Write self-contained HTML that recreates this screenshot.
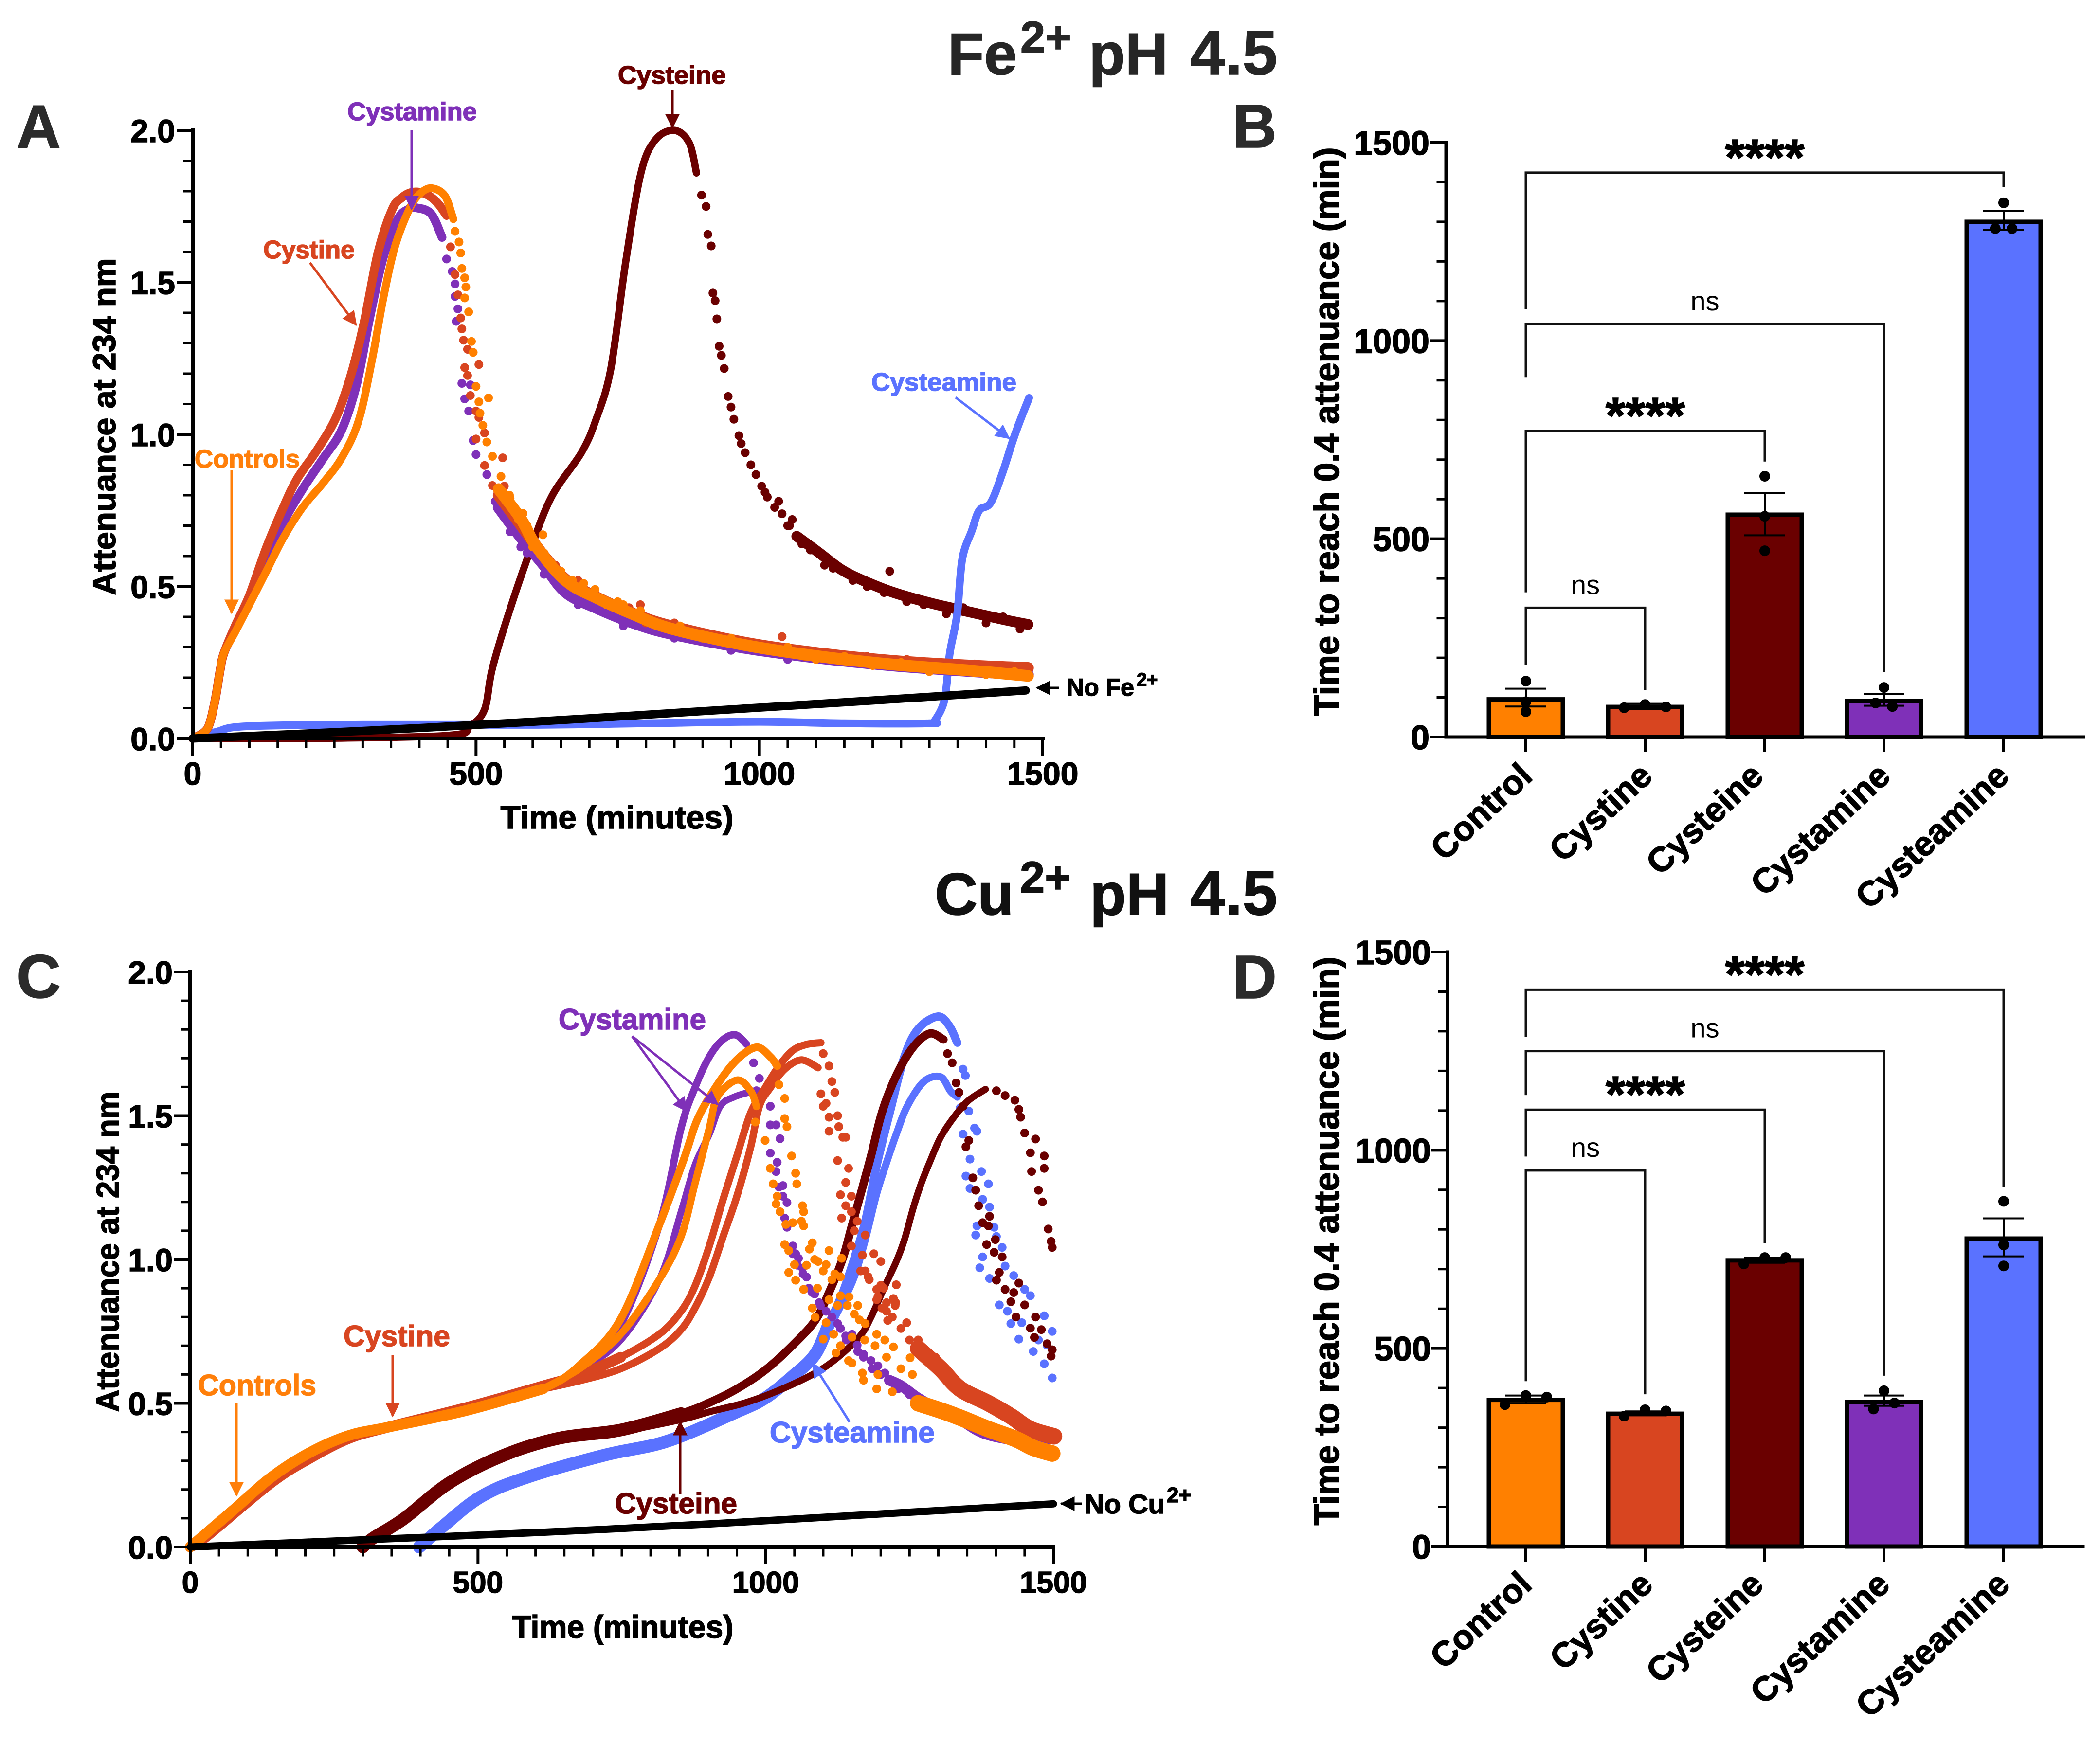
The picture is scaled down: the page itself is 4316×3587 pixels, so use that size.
<!DOCTYPE html>
<html lang="en">
<head>
<meta charset="utf-8">
<title>Attenuance time courses and time to 0.4 attenuance, Fe2+ and Cu2+ at pH 4.5</title>
<style>
html,body{margin:0;padding:0;background:#fff;}
svg{display:block;font-family:"Liberation Sans",sans-serif;}
text{font-family:"Liberation Sans",sans-serif;}
.b{font-weight:700;}
</style>
</head>
<body>
<svg id="figure" xmlns="http://www.w3.org/2000/svg" width="4316" height="3587" viewBox="0 0 4316 3587">
<rect x="0" y="0" width="4316" height="3587" fill="#fff"/>

<defs>
<marker id="ah-orange" markerWidth="7" markerHeight="7" refX="5.5" refY="3" orient="auto" markerUnits="strokeWidth"><path d="M0,0L6,3L0,6z" fill="#ff7f0a"/></marker>
<marker id="ah-red" markerWidth="7" markerHeight="7" refX="5.5" refY="3" orient="auto" markerUnits="strokeWidth"><path d="M0,0L6,3L0,6z" fill="#d84520"/></marker>
<marker id="ah-dark" markerWidth="7" markerHeight="7" refX="5.5" refY="3" orient="auto" markerUnits="strokeWidth"><path d="M0,0L6,3L0,6z" fill="#6a0000"/></marker>
<marker id="ah-purple" markerWidth="7" markerHeight="7" refX="5.5" refY="3" orient="auto" markerUnits="strokeWidth"><path d="M0,0L6,3L0,6z" fill="#7f30b8"/></marker>
<marker id="ah-blue" markerWidth="7" markerHeight="7" refX="5.5" refY="3" orient="auto" markerUnits="strokeWidth"><path d="M0,0L6,3L0,6z" fill="#5a72ff"/></marker>
<marker id="ah-black" markerWidth="7" markerHeight="7" refX="5.5" refY="3" orient="auto" markerUnits="strokeWidth"><path d="M0,0L6,3L0,6z" fill="#000"/></marker>
</defs>

<text class="b" font-size="122" fill="#262626" y="153"><tspan x="1948">Fe</tspan><tspan x="2097" y="108" font-size="92">2+</tspan><tspan x="2238" y="153">pH</tspan><tspan x="2446" y="153" font-size="129">4.5</tspan></text>
<text class="b" font-size="122" fill="#111" y="1880"><tspan x="1921">Cu</tspan><tspan x="2096" y="1835" font-size="92">2+</tspan><tspan x="2240" y="1880">pH</tspan><tspan x="2446" y="1880" font-size="129">4.5</tspan></text>

<text class="b" font-size="126" fill="#2b2b2b" x="34" y="304">A</text>
<text class="b" font-size="126" fill="#2b2b2b" x="2533" y="303">B</text>
<text class="b" font-size="126" fill="#2b2b2b" x="34" y="2051">C</text>
<text class="b" font-size="126" fill="#2b2b2b" x="2533" y="2052">D</text>

<g id="panel-a"></g>
<g id="panel-b"></g>
<g id="panel-c"></g>
<g id="panel-d"></g>

<g class="b">
<text class="b" x="714" y="247" font-size="52" fill="#7f30b8" textLength="266" lengthAdjust="spacingAndGlyphs">Cystamine</text>
<line x1="846" y1="268" x2="846" y2="430" stroke="#7f30b8" stroke-width="5" marker-end="url(#ah-purple)"/>
<text class="b" x="541" y="531" font-size="52" fill="#d84520" textLength="188" lengthAdjust="spacingAndGlyphs">Cystine</text>
<line x1="637" y1="540" x2="732" y2="668" stroke="#d84520" stroke-width="5" marker-end="url(#ah-red)"/>
<text class="b" x="400" y="961" font-size="52" fill="#ff7f0a" textLength="216" lengthAdjust="spacingAndGlyphs">Controls</text>
<line x1="476" y1="966" x2="476" y2="1260" stroke="#ff7f0a" stroke-width="5" marker-end="url(#ah-orange)"/>
<text class="b" x="1270" y="172" font-size="52" fill="#6a0000" textLength="222" lengthAdjust="spacingAndGlyphs">Cysteine</text>
<line x1="1382" y1="184" x2="1382" y2="262" stroke="#6a0000" stroke-width="5" marker-end="url(#ah-dark)"/>
<text class="b" x="1791" y="803" font-size="52" fill="#5a72ff" textLength="298" lengthAdjust="spacingAndGlyphs">Cysteamine</text>
<line x1="1964" y1="817" x2="2074" y2="901" stroke="#5a72ff" stroke-width="5" marker-end="url(#ah-blue)"/>
<line x1="2177" y1="1414" x2="2131" y2="1414" stroke="#000" stroke-width="5" marker-end="url(#ah-black)"/>
<text class="b" font-size="50" fill="#000" y="1430"><tspan x="2192">No Fe</tspan><tspan x="2336" y="1410" font-size="38">2+</tspan></text>
</g>

<g class="b">
<text class="b" x="1148" y="2116" font-size="60" fill="#7f30b8" textLength="303" lengthAdjust="spacingAndGlyphs">Cystamine</text>
<line x1="1299" y1="2130" x2="1411" y2="2284" stroke="#7f30b8" stroke-width="5" marker-end="url(#ah-purple)"/>
<line x1="1299" y1="2130" x2="1475" y2="2270" stroke="#7f30b8" stroke-width="5" marker-end="url(#ah-purple)"/>
<text class="b" x="706" y="2767" font-size="60" fill="#d84520" textLength="219" lengthAdjust="spacingAndGlyphs">Cystine</text>
<line x1="807" y1="2786" x2="807" y2="2911" stroke="#d84520" stroke-width="5" marker-end="url(#ah-red)"/>
<text class="b" x="407" y="2868" font-size="60" fill="#ff7f0a" textLength="243" lengthAdjust="spacingAndGlyphs">Controls</text>
<line x1="486" y1="2883" x2="486" y2="3074" stroke="#ff7f0a" stroke-width="5" marker-end="url(#ah-orange)"/>
<text class="b" x="1264" y="3111" font-size="60" fill="#6a0000" textLength="251" lengthAdjust="spacingAndGlyphs">Cysteine</text>
<line x1="1398" y1="3071" x2="1398" y2="2923" stroke="#6a0000" stroke-width="5" marker-end="url(#ah-dark)"/>
<line x1="1746" y1="2923" x2="1671" y2="2803" stroke="#5a72ff" stroke-width="5" marker-end="url(#ah-blue)"/>
<text class="b" x="1582" y="2965" font-size="60" fill="#5a72ff" textLength="339" lengthAdjust="spacingAndGlyphs">Cysteamine</text>
<line x1="2224" y1="3091" x2="2181" y2="3091" stroke="#000" stroke-width="5" marker-end="url(#ah-black)"/>
<text class="b" font-size="56" fill="#000" y="3111"><tspan x="2229">No Cu</tspan><tspan x="2398" y="3088" font-size="44">2+</tspan></text>
</g>
</svg>

<script>
/* Axis tick labels */
const timeTicks = [0, 500, 1000, 1500];
const attenuanceTicks = [0, 0.5, 1, 1.5, 2];
const durationTicks = [0, 500, 1000, 1500];
const categories = ['Control', 'Cystine', 'Cysteine', 'Cystamine', 'Cysteamine'];

/* Panel A: Fe2+ traces (minutes, attenuance) */
const aCystineT = [0,20,30,40,48,55,75,100,130,160,184,220,253,280,303,327,352,370,386,405,421,435,448];
const aCystineV = [0,.02,.05,.13,.22,.28,.37,.47,.627,.76,.853,.95,1.056,1.2,1.373,1.597,1.74,1.78,1.796,1.795,1.78,1.755,1.72];
const aCystineTailT = [540,580,620,660,712,778,843,975,1106,1237,1369,1474];
const aCystineTailV = [.80,.70,.60,.52,.465,.41,.37,.315,.28,.255,.24,.232];
const aCystineDotT = [455,463,468,473,475,478,485,480,485,505,490,500,505,515,500,515,529,547,790,1040,1190];
const aCystineDotV = [1.617,1.526,1.459,1.383,1.347,1.31,1.28,1.22,1.194,1.23,1.128,1.077,1.056,1.005,.985,.898,.832,.923,.44,.335,.27];
const aCystineExtraT = [550,570,600,640,680,720,770,800,850,900,960,1020,1080,1140,1200,1260,1320,1380,1440];
const aCystineExtraV = [.83,.73,.66,.57,.52,.46,.43,.38,.38,.33,.32,.30,.27,.275,.25,.26,.235,.245,.225];

const aCystamineT = [0,20,30,40,48,55,75,100,130,160,194,230,263,290,312,337,362,380,396,421,440];
const aCystamineV = [0,.02,.05,.13,.22,.28,.36,.46,.58,.71,.82,.92,1.015,1.17,1.38,1.587,1.708,1.74,1.745,1.725,1.648];
const aCystamineTailT = [540,580,620,659,712,778,843,975,1106,1237,1369,1474];
const aCystamineTailV = [.76,.66,.57,.48,.43,.38,.345,.298,.265,.24,.222,.21];
const aCystamineDotT = [448,458,463,463,468,465,475,490,480,487,495,500,519,534,552,579,560,590,620,650,680,720,760,800,850,900,950,1000,1050];
const aCystamineDotV = [1.577,1.536,1.495,1.454,1.413,1.372,1.168,1.163,1.117,1.077,.98,.934,.868,.78,.73,.63,.68,.61,.54,.5,.44,.42,.37,.37,.33,.33,.29,.29,.26];

const aOrangeT = [0,20,30,40,48,55,75,100,130,160,194,230,263,293,317,337,357,382,400,421,445,460];
const aOrangeV = [0,.02,.05,.13,.22,.28,.35,.44,.55,.66,.76,.84,.923,1.046,1.25,1.454,1.618,1.74,1.79,1.81,1.785,1.708];
const aOrangeTailT = [540,580,607,659,712,778,843,975,1106,1237,1369,1474];
const aOrangeTailV = [.82,.72,.63,.518,.463,.408,.362,.307,.27,.243,.224,.206];
const aOrangeDotT = [463,470,473,475,480,482,480,487,492,495,500,522,505,507,512,519,529,544,559,583,618,690,750];
const aOrangeDotV = [1.668,1.633,1.597,1.546,1.515,1.485,1.449,1.403,1.306,1.27,1.158,1.12,1.107,1.07,1.03,.975,.928,.862,.8,.74,.67,.51,.45];
const aOrangeExtraT = [560,575,590,600,620,635,650,670,690,710,730,760,790,820,860,900,950,1000,1050,1100,1150,1200,1250,1300,1350,1400,1450];
const aOrangeExtraV = [.79,.72,.70,.63,.61,.56,.55,.52,.49,.49,.44,.44,.42,.37,.37,.33,.33,.295,.30,.26,.27,.24,.25,.22,.23,.21,.22];

const aCysteineT = [0,200,450,489,515,528,554,594,633,686,712,738,764,791,817,850,876,889];
const aCysteineV = [0,0,.01,.04,.095,.224,.39,.61,.794,.94,1.05,1.217,1.566,1.86,1.97,2,1.96,1.86];
const aCysteineDotT = [898,906,909,915,918,922,925,929,933,938,945,950,955,964,968,975,985,994,1004,1010,1014,1027,1034,1040,1053,1058,1066];
const aCysteineDotV = [1.787,1.75,1.658,1.62,1.465,1.44,1.38,1.29,1.26,1.217,1.125,1.09,1.05,.996,.97,.94,.9,.868,.83,.81,.794,.76,.78,.739,.7,.72,.665];
const aCysteineTailT = [1066,1106,1145,1185,1237,1303,1369,1434,1474];
const aCysteineTailV = [.665,.61,.555,.518,.48,.445,.417,.39,.375];
const aCysteineExtraT = [1050,1075,1090,1115,1130,1165,1190,1220,1230,1260,1290,1330,1360,1400,1430,1460];
const aCysteineExtraV = [.70,.64,.62,.57,.56,.52,.5,.48,.55,.45,.44,.41,.43,.38,.4,.36];

const aCysteamineT = [0,42,95,300,600,800,1000,1150,1300,1310,1327,1336,1349,1358,1375,1388,1408,1428,1447,1461,1476];
const aCysteamineV = [0,.022,.04,.045,.045,.05,.055,.05,.05,.06,.13,.28,.408,.59,.684,.75,.775,.868,.978,1.05,1.12];

const aNoIonT = [0,300,600,900,1200,1470];
const aNoIonV = [0,.025,.055,.09,.125,.158];

/* Panel C: Cu2+ traces (minutes, attenuance) */
const cPurpleAT = [0,74,141,209,276,344,478,613,680,748,815,853,877,902,926,948,967];
const cPurpleAV = [0,.127,.243,.33,.388,.417,.474,.55,.62,.773,1.12,1.457,1.597,1.705,1.765,1.781,1.748];
const cPurpleBT = [613,680,748,815,853,877,902,921,945,979];
const cPurpleBV = [.55,.62,.72,.93,1.166,1.328,1.436,1.533,1.565,1.586];
const cPurpleDotT = [979,989,984,1008,1008,1018,1025,1008,1020,1018,1030,1023,1030,1037,1033,1037,1047,1052,1057,1064,1071,1081,1093,1105,1115,1125,1139,1159,1170,1183,1195,1207];
const cPurpleDotV = [1.684,1.63,1.587,1.533,1.468,1.468,1.42,1.37,1.338,1.306,1.257,1.252,1.22,1.198,1.144,1.112,1.047,1.02,1.004,.97,.939,.885,.85,.82,.8,.777,.734,.702,.67,.648,.63,.605];
const cPurpleExtraT = [1047,1055,1065,1075,1085,1095,1130,1140,1150,1160,1170,1185,1200,1215,1230,1250];
const cPurpleExtraV = [1.02,.98,.95,.9,.88,.84,.76,.72,.74,.68,.66,.62,.6,.58,.55,.53];
const cPurpleTailT = [1215,1236,1265,1304,1338,1387,1484];
const cPurpleTailV = [.58,.56,.518,.475,.443,.39,.356];

const cOrangeAT = [0,74,141,209,276,344,478,613,680,748,815,858,882,916,950,984,1008,1020];
const cOrangeAV = [0,.127,.243,.33,.388,.417,.474,.55,.638,.793,1.12,1.35,1.49,1.608,1.695,1.738,1.705,1.673];
const cOrangeBT = [613,680,748,815,853,877,902,916,950,974,984];
const cOrangeBV = [.55,.625,.74,.93,1.08,1.263,1.457,1.565,1.624,1.586,1.532];
const cOrangeDotAT = [1023,1033,1033,1037,1045,1052,1054,1064,1066,1066,1047,1081,1076,1110,1091,1105,1132,1120,1130,1142,1154,1163,1173,1193,1207,1222,1251];
const cOrangeDotAV = [1.608,1.56,1.49,1.462,1.36,1.3,1.263,1.187,1.166,1.117,1.128,1.058,1.036,1.031,.993,.982,1.004,.95,.874,.84,.81,.79,.777,.74,.72,.696,.658];
const cOrangeDotBT = [982,999,1008,1013,1020,1018,1025,1035,1062,1033,1040,1050,1040,1052,1066,1081,1086,1100,1122,1144,1168,1193];
const cOrangeDotBV = [1.478,1.414,1.317,1.263,1.22,1.193,1.166,1.122,1.133,1.052,1.031,.982,.955,.928,.896,.831,.799,.723,.675,.648,.605,.55];
const cOrangeExtraT = [1071,1085,1100,1115,1130,1145,1160,1090,1110,1125,1150,1172,1190,1210,1235,1255,1130,1150,1170,1195,1220,1105,1118];
const cOrangeExtraV = [.98,1.0,.96,.93,.94,.87,.84,.9,.86,.84,.73,.72,.7,.66,.62,.6,.7,.64,.58,.6,.54,.78,.74];
const cOrangeTailT = [1265,1304,1338,1387,1435,1465,1498];
const cOrangeTailV = [.50,.475,.45,.41,.375,.345,.325];

const cRedAT = [0,30,141,209,276,344,478,613,680,748,815,853,877,902,926,950,974,999,1023,1047,1071,1096];
const cRedAV = [0,.04,.224,.31,.378,.417,.484,.56,.6,.66,.74,.82,.907,1.047,1.209,1.36,1.511,1.597,1.673,1.727,1.748,1.754];
const cRedBT = [613,680,748,815,853,877,902,926,950,974,989,1008,1033,1062,1091];
const cRedBV = [.55,.58,.62,.69,.756,.831,.939,1.08,1.22,1.392,1.533,1.597,1.662,1.694,1.667];
const cRedDotAT = [1100,1110,1115,1120,1105,1125,1110,1127,1139,1125,1144,1139,1149,1149,1159,1173,1188,1200,1227,1222];
const cRedDotAV = [1.716,1.673,1.619,1.581,1.543,1.5,1.495,1.462,1.425,1.344,1.317,1.268,1.22,1.166,1.133,1.085,1.02,.993,.912,.864];
const cRedDotBT = [1096,1100,1110,1134,1130,1139,1132,1154,1149,1168,1173,1193,1202,1212,1193,1210,1178,1226,1200];
const cRedDotBV = [1.576,1.533,1.446,1.425,1.225,1.187,1.144,1.1,1.047,1.015,.96,.896,.831,.788,.86,.85,.94,.85,.91];
const cRedExtraT = [1165,1180,1195,1210,1220,1235,1250,1265,1280,1295,1205,1225,1245];
const cRedExtraV = [.96,.93,.87,.82,.8,.76,.72,.72,.66,.66,.9,.84,.78];
const cRedTailT = [1265,1304,1338,1387,1426,1460,1501];
const cRedTailV = [.69,.62,.55,.50,.455,.41,.385];

const cBlueAT = [398,438,505,586,721,829,950,999,1047,1086,1110,1134,1154,1173,1193,1217,1241,1265,1299,1319,1333];
const cBlueAV = [0,.07,.175,.243,.32,.368,.47,.518,.594,.67,.777,.885,1.004,1.133,1.328,1.522,1.705,1.802,1.845,1.813,1.754];
const cBlueBT = [1086,1110,1134,1154,1173,1193,1212,1227,1246,1275,1304,1321,1333];
const cBlueBV = [.67,.76,.853,.94,1.069,1.23,1.349,1.436,1.533,1.619,1.635,1.586,1.565];
const cBlueDotT = [1343,1347,1338,1353,1363,1343,1367,1355,1375,1348,1387,1355,1377,1389,1367,1397,1365,1401,1411,1377,1416,1372,1431,1389,1406,1450,1460,1426,1484,1498,1440,1489,1465,1484,1498,1420,1445,1474];
const cBlueDotV = [1.662,1.64,1.527,1.516,1.457,1.436,1.446,1.349,1.306,1.29,1.263,1.247,1.209,1.182,1.117,1.112,1.085,1.08,1.042,1.009,.977,.971,.944,.934,.842,.896,.874,.777,.804,.75,.723,.702,.68,.637,.588,.82,.78,.72];

const cDarkAT = [300,317,371,451,546,640,748,853,902,950,999,1047,1086,1110,1134,1149,1164,1183,1202,1227,1256,1285,1309];
const cDarkAV = [0,.03,.098,.224,.32,.378,.407,.464,.502,.55,.615,.702,.788,.885,1.004,1.112,1.22,1.36,1.511,1.64,1.738,1.786,1.765];
const cDarkBT = [748,853,902,965,1023,1086,1125,1164,1183,1207,1227,1241,1256,1270,1285,1304,1329,1353,1382];
const cDarkBV = [.4,.443,.47,.502,.545,.605,.659,.734,.799,.907,.993,1.068,1.176,1.263,1.338,1.425,1.5,1.554,1.592];
const cDarkDotAT = [1316,1324,1331,1336,1343,1353,1348,1360,1365,1370,1377,1387,1389,1399,1384,1397,1411,1406,1401,1440,1416,1431,1426,1450,1435,1469,1460,1479,1467,1489,1498,1496];
const cDarkDotAV = [1.716,1.684,1.614,1.581,1.533,1.414,1.392,1.284,1.241,1.187,1.128,1.117,1.15,1.069,1.052,1.025,1.009,.955,.928,.918,.896,.885,.853,.842,.8,.8,.761,.756,.729,.707,.686,.664];
const cDarkDotBT = [1401,1416,1433,1440,1443,1450,1469,1460,1484,1462,1484,1474,1481,1491,1496,1498];
const cDarkDotBV = [1.587,1.57,1.554,1.522,1.495,1.44,1.419,1.371,1.36,1.306,1.317,1.241,1.2,1.106,1.063,1.042];

const cNoIonT = [0,300,600,900,1200,1500];
const cNoIonV = [0,.025,.05,.08,.115,.15];

/* Panel B: Fe2+ bar chart */
const bMeans = [95,76,561,91,1300];
const bSemUpper = [122,84,615,109,1327];
const bSemLower = [77,70,509,79,1280];
const bRep1 = [141,74,658,125,1348];
const bRep2 = [89,82,557,86,1283];
const bRep3 = [64,76,470,77,1283];

/* Panel D: Cu2+ bar chart */
const dMeans = [370,335,722,364,777];
const dSemUpper = [381,341,729,381,828];
const dSemLower = [362,331,716,355,732];
const dRep1 = [358,329,713,347,871];
const dRep2 = [381,345,729,393,761];
const dRep3 = [377,342,729,362,708];

/* Significance brackets (in the axis unit) */
const bBracketTop = [1424,1042,772,326];
const bBracketLeft = [1079,908,365,182];
const bBracketRight = [1387,164,695,119];
const dBracketTop = [1405,1250,1102,949];
const dBracketLeft = [1286,1139,984,417];
const dBracketRight = [906,431,765,384];
const bracketTarget = [4,3,2,1];
const bracketLabels = ['****','ns','****','ns'];

const NS = 'http://www.w3.org/2000/svg';
const ORANGE = '#ff8000', RED = '#d84520', DARK = '#6a0000', PURPLE = '#7f30b8', BLUE = '#5a72ff';
const BAR_COLORS = [ORANGE, RED, DARK, PURPLE, BLUE];

function mk(tag, parent) {
  const n = document.createElementNS(NS, tag);
  parent.appendChild(n);
  return n;
}
function linearScale(d0, d1, r0, r1) {
  return function (v) { return r0 + (v - d0) * (r1 - r0) / (d1 - d0); };
}
function smoothPath(T, V, sx, sy) {
  const P = T.map(function (t, i) { return [sx(t), sy(V[i])]; });
  let d = 'M' + P[0][0].toFixed(1) + ',' + P[0][1].toFixed(1);
  for (let i = 0; i < P.length - 1; i++) {
    const p0 = P[Math.max(i - 1, 0)], p1 = P[i], p2 = P[i + 1], p3 = P[Math.min(i + 2, P.length - 1)];
    const c1x = p1[0] + (p2[0] - p0[0]) / 6, c1y = p1[1] + (p2[1] - p0[1]) / 6;
    const c2x = p2[0] - (p3[0] - p1[0]) / 6, c2y = p2[1] - (p3[1] - p1[1]) / 6;
    d += 'C' + c1x.toFixed(1) + ',' + c1y.toFixed(1) + ' ' + c2x.toFixed(1) + ',' + c2y.toFixed(1) + ' ' + p2[0].toFixed(1) + ',' + p2[1].toFixed(1);
  }
  return d;
}
function trace(parent, T, V, sx, sy, color, width) {
  const p = mk('path', parent);
  
  
  p.setAttribute('d', smoothPath(T, V, sx, sy));
  p.setAttribute('fill', 'none');
  p.setAttribute('stroke', color);
  p.setAttribute('stroke-width', width);
  p.setAttribute('stroke-linecap', 'round');
  p.setAttribute('stroke-linejoin', 'round');
}
function dots(parent, T, V, sx, sy, color, r) {
  T.forEach(function (t, i) {
    const c = mk('circle', parent);
    
    
    c.setAttribute('cx', sx(t).toFixed(1));
    c.setAttribute('cy', sy(V[i]).toFixed(1));
    c.setAttribute('r', r);
    c.setAttribute('fill', color);
  });
}
function seriesGroup(parent, label) {
  const g = mk('g', parent);
  
  
  return g;
}
function label(parent, str, x, y, size, anchor, weight) {
  const t = mk('text', parent);
  
  
  t.setAttribute('x', x);
  t.setAttribute('y', y);
  t.setAttribute('font-size', size);
  t.setAttribute('text-anchor', anchor);
  t.setAttribute('font-weight', weight);
  t.setAttribute('fill', '#000');
  t.textContent = str;
  return t;
}
function seg(parent, x1, y1, x2, y2, w) {
  const l = mk('line', parent);
  
  
  l.setAttribute('x1', x1);
  l.setAttribute('y1', y1);
  l.setAttribute('x2', x2);
  l.setAttribute('y2', y2);
  l.setAttribute('stroke', '#000');
  l.setAttribute('stroke-width', w);
  l.setAttribute('stroke-linecap', 'square');
  return l;
}

function timeAxes(panel, sx, sy, xLabelSize, xLabelBase, xTitleX, xTitleBase, xTitleLen, yTitleX, yTitleY, yTitleLen) {
  const ax = mk('g', panel);
  
  
  seg(ax, sx(0), sy(2), sx(0), sy(0), 8);
  seg(ax, sx(0), sy(0), sx(1500), sy(0), 8);
  for (let v = 0; v <= 1500; v += 50) {
    const major = v % 500 === 0;
    seg(ax, sx(v), sy(0), sx(v), sy(0) + (major ? 32 : 17), major ? 6 : 5);
  }
  for (let k = 0; k <= 20; k++) {
    const major = k % 5 === 0;
    seg(ax, sx(0), sy(k / 10), sx(0) - (major ? 30 : 17), sy(k / 10), major ? 6 : 5);
  }
  timeTicks.forEach(function (v) {
    label(ax, String(v), sx(v), xLabelBase, xLabelSize, 'middle', 700);
  });
  attenuanceTicks.forEach(function (v) {
    label(ax, v.toFixed(1), sx(0) - 36, sy(v) + 24, 66, 'end', 700);
  });
  const xt = label(ax, 'Time (minutes)', xTitleX, xTitleBase, 66, 'middle', 700);
  xt.setAttribute('textLength', xTitleLen);
  xt.setAttribute('lengthAdjust', 'spacingAndGlyphs');
  const yt = label(ax, 'Attenuance at 234 nm', yTitleX, yTitleY, 66, 'middle', 700);
  yt.setAttribute('transform', 'rotate(-90 ' + yTitleX + ' ' + yTitleY + ')');
  yt.setAttribute('textLength', yTitleLen);
  yt.setAttribute('lengthAdjust', 'spacingAndGlyphs');
}

function barPanel(panel, yScale, axisX, rightX, centers, means, upper, lower, reps, spread, top, left, right, titleY, catY, catDx) {
  const base = yScale(0);
  const ax = mk('g', panel);
  
  

  means.forEach(function (m, i) {
    const r = mk('rect', panel);
    
    
    r.setAttribute('x', centers[i] - 76);
    r.setAttribute('y', yScale(m));
    r.setAttribute('width', 152);
    r.setAttribute('height', base - yScale(m));
    r.setAttribute('fill', BAR_COLORS[i]);
    r.setAttribute('stroke', '#000');
    r.setAttribute('stroke-width', 9);

    const e = mk('path', panel);
    
    
    const hi = yScale(upper[i]), lo = yScale(lower[i]);
    e.setAttribute('d', 'M' + centers[i] + ',' + hi + 'V' + lo + 'M' + (centers[i] - 42) + ',' + hi + 'h84M' + (centers[i] - 42) + ',' + lo + 'h84');
    e.setAttribute('fill', 'none');
    e.setAttribute('stroke', '#000');
    e.setAttribute('stroke-width', 4);

    reps.forEach(function (rep, k) {
      const c = mk('circle', panel);
      
      
      c.setAttribute('cx', centers[i] + spread[i][k] * 43);
      c.setAttribute('cy', yScale(rep[i]));
      c.setAttribute('r', 11);
      c.setAttribute('fill', '#000');
    });
  });

  seg(ax, axisX, yScale(1500), axisX, base, 7);
  seg(ax, axisX, base, rightX, base, 7);
  for (let v = 0; v <= 1500; v += 100) {
    const major = v % 500 === 0;
    seg(ax, axisX, yScale(v), axisX - (major ? 30 : 17), yScale(v), major ? 6 : 5);
  }
  durationTicks.forEach(function (v) {
    label(ax, String(v), axisX - 34, yScale(v) + 25, 70, 'end', 700);
  });
  centers.forEach(function (c, i) {
    seg(ax, c, base, c, base + 28, 6);
    const bx = c + catDx[i];
    const t = label(ax, categories[i], bx, catY, 71, 'end', 700);
    t.setAttribute('transform', 'rotate(-43 ' + bx + ' ' + catY + ')');
  });
  const yt = label(ax, 'Time to reach 0.4 attenuance (min)', 2751, titleY, 71, 'middle', 700);
  yt.setAttribute('transform', 'rotate(-90 2751 ' + titleY + ')');
  yt.setAttribute('textLength', 1169);
  yt.setAttribute('lengthAdjust', 'spacingAndGlyphs');

  bracketTarget.forEach(function (target, i) {
    const p = mk('path', panel);
    
    
    const x1 = centers[0], x2 = centers[target], yb = yScale(top[i]);
    p.setAttribute('d', 'M' + x1 + ',' + yScale(left[i]) + 'V' + yb + 'H' + x2 + 'V' + yScale(right[i]));
    p.setAttribute('fill', 'none');
    p.setAttribute('stroke', '#111');
    p.setAttribute('stroke-width', 5);
    const stars = bracketLabels[i] !== 'ns';
    const t = mk('text', panel);
    
    
    t.setAttribute('x', (x1 + x2) / 2);
    t.setAttribute('y', stars ? yb + 4 : yb - 28);
    t.setAttribute('font-size', stars ? 105 : 56);
    t.setAttribute('font-weight', stars ? 700 : 400);
    t.setAttribute('text-anchor', 'middle');
    t.setAttribute('fill', '#000');
    t.textContent = bracketLabels[i];
  });
}

/* ---- Panel A ---- */
(function () {
  const panel = document.getElementById('panel-a');
  const sx = linearScale(0, 1500, 396, 2143);
  const sy = linearScale(0, 2, 1518, 268);
  const R = 9;
  let g = seriesGroup(panel, 'cysteine-series-a');
  trace(g, aCysteineT, aCysteineV, sx, sy, DARK, 15);
  dots(g, aCysteineDotT, aCysteineDotV, sx, sy, DARK, R);
  trace(g, aCysteineTailT, aCysteineTailV, sx, sy, DARK, 22);
  dots(g, aCysteineExtraT, aCysteineExtraV, sx, sy, DARK, R);
  g = seriesGroup(panel, 'cysteamine-series-a');
  trace(g, aCysteamineT, aCysteamineV, sx, sy, BLUE, 16);
  g = seriesGroup(panel, 'cystamine-series-a');
  trace(g, aCystamineT, aCystamineV, sx, sy, PURPLE, 18);
  dots(g, aCystamineDotT, aCystamineDotV, sx, sy, PURPLE, R);
  trace(g, aCystamineTailT, aCystamineTailV, sx, sy, PURPLE, 24);
  g = seriesGroup(panel, 'cystine-series-a');
  trace(g, aCystineT, aCystineV, sx, sy, RED, 18);
  dots(g, aCystineDotT, aCystineDotV, sx, sy, RED, R);
  trace(g, aCystineTailT, aCystineTailV, sx, sy, RED, 24);
  dots(g, aCystineExtraT, aCystineExtraV, sx, sy, RED, R);
  g = seriesGroup(panel, 'control-series-a');
  trace(g, aOrangeT, aOrangeV, sx, sy, ORANGE, 16);
  dots(g, aOrangeDotT, aOrangeDotV, sx, sy, ORANGE, R);
  trace(g, aOrangeTailT, aOrangeTailV, sx, sy, ORANGE, 24);
  dots(g, aOrangeExtraT, aOrangeExtraV, sx, sy, ORANGE, R);
  g = seriesGroup(panel, 'no-fe-series');
  trace(g, aNoIonT, aNoIonV, sx, sy, '#000', 17);
  timeAxes(panel, sx, sy, 66, 1613, 1268, 1703, 479, 237, 877, 693);
})();

/* ---- Panel C ---- */
(function () {
  const panel = document.getElementById('panel-c');
  const sx = linearScale(0, 1500, 391, 2165);
  const sy = linearScale(0, 2, 3180, 1998);
  const R = 9;
  let g = seriesGroup(panel, 'cysteamine-series-c');
  trace(g, cBlueAT.slice(0, 11), cBlueAV.slice(0, 11), sx, sy, BLUE, 26);
  trace(g, cBlueAT, cBlueAV, sx, sy, BLUE, 17);
  trace(g, cBlueBT, cBlueBV, sx, sy, BLUE, 15);
  dots(g, cBlueDotT, cBlueDotV, sx, sy, BLUE, R);
  g = seriesGroup(panel, 'cysteine-series-c');
  trace(g, cDarkAT.slice(0, 8), cDarkAV.slice(0, 8), sx, sy, DARK, 26);
  trace(g, cDarkAT, cDarkAV, sx, sy, DARK, 17);
  trace(g, cDarkBT, cDarkBV, sx, sy, DARK, 14);
  dots(g, cDarkDotAT, cDarkDotAV, sx, sy, DARK, R);
  dots(g, cDarkDotBT, cDarkDotBV, sx, sy, DARK, R);
  g = seriesGroup(panel, 'cystamine-series-c');
  trace(g, cPurpleAT, cPurpleAV, sx, sy, PURPLE, 15);
  trace(g, cPurpleBT, cPurpleBV, sx, sy, PURPLE, 14);
  dots(g, cPurpleDotT, cPurpleDotV, sx, sy, PURPLE, R);
  dots(g, cPurpleExtraT, cPurpleExtraV, sx, sy, PURPLE, R);
  trace(g, cPurpleTailT, cPurpleTailV, sx, sy, PURPLE, 22);
  g = seriesGroup(panel, 'cystine-series-c');
  trace(g, cRedAT.slice(0, 10), cRedAV.slice(0, 10), sx, sy, RED, 22);
  trace(g, cRedAT, cRedAV, sx, sy, RED, 15);
  trace(g, cRedBT, cRedBV, sx, sy, RED, 15);
  dots(g, cRedDotAT, cRedDotAV, sx, sy, RED, R);
  dots(g, cRedDotBT, cRedDotBV, sx, sy, RED, R);
  dots(g, cRedExtraT, cRedExtraV, sx, sy, RED, R);
  trace(g, cRedTailT, cRedTailV, sx, sy, RED, 34);
  g = seriesGroup(panel, 'control-series-c');
  trace(g, cOrangeAT.slice(0, 8), cOrangeAV.slice(0, 8), sx, sy, ORANGE, 22);
  trace(g, cOrangeAT, cOrangeAV, sx, sy, ORANGE, 16);
  trace(g, cOrangeBT, cOrangeBV, sx, sy, ORANGE, 15);
  dots(g, cOrangeDotAT, cOrangeDotAV, sx, sy, ORANGE, R);
  dots(g, cOrangeDotBT, cOrangeDotBV, sx, sy, ORANGE, R);
  dots(g, cOrangeExtraT, cOrangeExtraV, sx, sy, ORANGE, R);
  trace(g, cOrangeTailT, cOrangeTailV, sx, sy, ORANGE, 34);
  g = seriesGroup(panel, 'no-cu-series');
  trace(g, cNoIonT, cNoIonV, sx, sy, '#000', 15);
  timeAxes(panel, sx, sy, 62, 3274, 1280, 3367, 455, 244, 2573, 659);
})();

/* ---- Panels B and D ---- */
const barCenters = [3136, 3381, 3627, 3872, 4118];
barPanel(document.getElementById('panel-b'), linearScale(0, 1500, 1515, 293), 2972, 4282,
  barCenters, bMeans, bSemUpper, bSemLower, [bRep1, bRep2, bRep3],
  [[0,0,0],[-1,0,1],[0,0,0],[0,-.4,.4],[0,-.4,.4]],
  bBracketTop, bBracketLeft, bBracketRight, 887, 1600, [17,19,1,17,15]);
barPanel(document.getElementById('panel-d'), linearScale(0, 1500, 3179, 1957), 2975, 4281,
  barCenters, dMeans, dSemUpper, dSemLower, [dRep1, dRep2, dRep3],
  [[-1,0,1],[-1,0,1],[-1,0,1],[-.5,0,.5],[0,0,0]],
  dBracketTop, dBracketLeft, dBracketRight, 2551, 3262, [16,20,1,16,16]);

/* Slightly heavier text weight, as the raster reference renders it */
document.querySelectorAll('text').forEach(function (t) {
  const heavy = t.classList.contains('b') || t.getAttribute('font-weight') === '700';
  if (heavy) {
    t.setAttribute('stroke', t.getAttribute('fill') || '#000');
    t.setAttribute('stroke-width', '1.6');
  }
});
</script>
</body>
</html>
